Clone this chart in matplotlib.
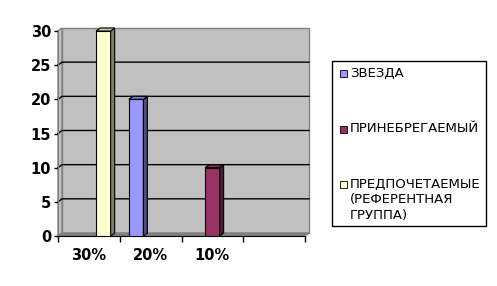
import numpy as np
import matplotlib.pyplot as plt
from matplotlib.patches import Polygon, Rectangle
import matplotlib.colors as mcolors

# --- data ---
categories = ["30%", "20%", "10%", ""]
series_names = ["ЗВЕЗДА", "ПРИНЕБРЕГАЕМЫЙ", "ПРЕДПОЧЕТАЕМЫЕ\n(РЕФЕРЕНТНАЯ\nГРУППА)"]
zvezda = [0, 20, 0, 0]
prenebr = [0, 0, 10, 0]
predpoch = [30, 0, 0, 0]
series_values = [zvezda, prenebr, predpoch]
series_colors = ["#9999FF", "#993366", "#FFFFCC"]
y_ticks = [0, 5, 10, 15, 20, 25, 30]


def shade(c, k):
    r, g, b = mcolors.to_rgb(c)
    return (r * k, g * k, b * k)


W, H = 497, 286
fig = plt.figure(figsize=(W / 100, H / 100), dpi=100)
fig.patch.set_facecolor("white")
ax = fig.add_axes([58 / W, 50 / H, 247 / W, 205 / H])
n_cat = len(categories)
ymax = y_ticks[-1]
ax.set_xlim(0, n_cat)
ax.set_ylim(0, ymax)
ax.patch.set_visible(False)

# --- 3D depth offset (about 4 px right, 3 px up) in data units ---
dx = 4 * n_cat / 247
dy = 3 * ymax / 205

# back wall, left wall, floor
ax.add_patch(Rectangle((dx, dy), n_cat, ymax, facecolor="#C0C0C0",
                       edgecolor="#808080", lw=1, zorder=0, clip_on=False))
ax.add_patch(Polygon([(0, 0), (dx, dy), (dx, ymax + dy), (0, ymax)],
                     facecolor="#C0C0C0", edgecolor="#808080", lw=1,
                     zorder=0, clip_on=False))
ax.add_patch(Polygon([(0, 0), (n_cat, 0), (n_cat + dx, dy), (dx, dy)],
                     facecolor="#808080", edgecolor="#808080", lw=1,
                     zorder=1, clip_on=False))

# gridlines on walls
for v in y_ticks[1:-1]:
    ax.plot([0, dx, n_cat + dx], [v, v + dy, v + dy], color="black",
            lw=1, zorder=1, clip_on=False)

# --- bars ---
n_ser = len(series_values)
w = 0.235
gap = (1 - n_ser * w) / 2
for i, (vals, col) in enumerate(zip(series_values, series_colors)):
    for j, v in enumerate(vals):
        if v == 0:
            continue
        x = j + gap + i * w
        ax.bar(x, v, width=w, align="edge", color=col, edgecolor="black",
               linewidth=0.8, zorder=3)
        ax.add_patch(Polygon([(x + w, 0), (x + w + dx, dy), (x + w + dx, v + dy), (x + w, v)],
                             facecolor=shade(col, 0.5), edgecolor="black", lw=0.8,
                             zorder=3, clip_on=False))
        ax.add_patch(Polygon([(x, v), (x + dx, v + dy), (x + w + dx, v + dy), (x + w, v)],
                             facecolor=shade(col, 0.8), edgecolor="black", lw=0.8,
                             zorder=3, clip_on=False))

# --- axes / ticks ---
for s in ["top", "right"]:
    ax.spines[s].set_visible(False)
ax.spines["left"].set_color("#808080")
ax.spines["bottom"].set_color("black")
ax.spines["left"].set_zorder(2)
ax.spines["bottom"].set_zorder(2)

ax.set_yticks(y_ticks)
ax.set_yticklabels([str(t) for t in y_ticks], fontsize=10.5, fontweight="bold")
ax.tick_params(axis="y", direction="out", length=3, width=1, pad=2)

ax.set_xticks(range(n_cat + 1))
ax.set_xticklabels([])
ax.set_xticks(np.arange(n_cat) + 0.5, minor=True)
ax.set_xticklabels(categories, minor=True, fontsize=10.5, fontweight="bold")
ax.tick_params(axis="x", which="major", direction="out", length=4, width=1)
ax.tick_params(axis="x", which="minor", length=0, pad=9)

# --- legend ---
lx0, lx1, ly0, ly1 = 332, 486, 61, 226
fig.patches.append(Rectangle((lx0 / W, 1 - ly1 / H), (lx1 - lx0) / W, (ly1 - ly0) / H,
                             transform=fig.transFigure, facecolor="white",
                             edgecolor="black", lw=1))
entry_y = [73, 129, 184]
for name, col, yc in zip(series_names, series_colors, entry_y):
    fig.patches.append(Rectangle((340 / W, 1 - (yc + 3.5) / H), 7 / W, 7 / H,
                                 transform=fig.transFigure, facecolor=col,
                                 edgecolor="black", lw=0.6))
    fig.text(350 / W, 1 - (yc - 6.5) / H, name, fontsize=9.5, va="top", ha="left",
             linespacing=1.3)

fig.savefig("out.png", dpi=100)
